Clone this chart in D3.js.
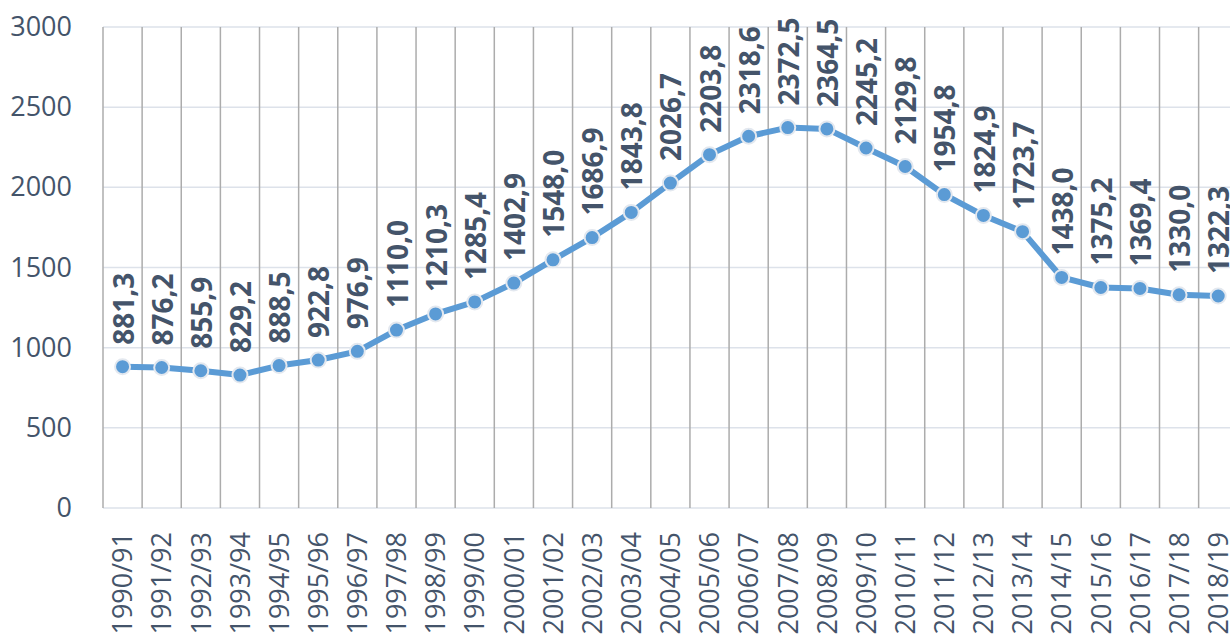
<!DOCTYPE html>
<html>
<head>
<meta charset="utf-8">
<script src="https://cdn.jsdelivr.net/npm/d3@7"></script>
<style>
  body { margin: 0; background: #fff; }
  svg { display: block; font-family: "Open Sans", sans-serif; }
</style>
</head>
<body>
<div id="chart"></div>
<script>
var years = ["1990/91", "1991/92", "1992/93", "1993/94", "1994/95", "1995/96", "1996/97",
  "1997/98", "1998/99", "1999/00", "2000/01", "2001/02", "2002/03", "2003/04", "2004/05",
  "2005/06", "2006/07", "2007/08", "2008/09", "2009/10", "2010/11", "2011/12", "2012/13",
  "2013/14", "2014/15", "2015/16", "2016/17", "2017/18", "2018/19"];
var values = [881.3, 876.2, 855.9, 829.2, 888.5, 922.8, 976.9, 1110.0, 1210.3, 1285.4,
  1402.9, 1548.0, 1686.9, 1843.8, 2026.7, 2203.8, 2318.6, 2372.5, 2364.5, 2245.2,
  2129.8, 1954.8, 1824.9, 1723.7, 1438.0, 1375.2, 1369.4, 1330.0, 1322.3];
var yTicks = [0, 500, 1000, 1500, 2000, 2500, 3000];

var svgWidth = 1230;
var svgHeight = 637;
var plotLeft = 103, plotTop = 27, plotBottom = 508;
var step = 39.13;
var plotRight = plotLeft + step * years.length;

var textColor = "#44546a";

var svg = d3.select("#chart")
  .append("svg")
  .attr("width", svgWidth)
  .attr("height", svgHeight);

var x = d3.scaleBand()
  .domain(years)
  .range([plotLeft, plotRight])
  .padding(0);

var y = d3.scaleLinear()
  .domain([0, 3000])
  .range([plotBottom, plotTop]);

// horizontal gridlines
svg.append("g")
  .selectAll("line")
  .data(yTicks)
  .enter()
  .append("line")
  .attr("x1", plotLeft)
  .attr("x2", plotRight)
  .attr("y1", d => y(d))
  .attr("y2", d => y(d))
  .attr("stroke", "#dde2ea")
  .attr("stroke-width", 1.5);

// vertical gridlines between categories
var bounds = years.map(d => x(d));
svg.append("g")
  .selectAll("line")
  .data(bounds)
  .enter()
  .append("line")
  .attr("x1", d => d)
  .attr("x2", d => d)
  .attr("y1", y(3000))
  .attr("y2", y(0))
  .attr("stroke", "#acacac")
  .attr("stroke-width", 1.5);

// y axis labels
var yAxis = svg.append("g")
  .attr("transform", "translate(72,0)")
  .call(d3.axisLeft(y).tickValues(yTicks).tickFormat(d3.format("d")).tickSize(0).tickPadding(0));
yAxis.select(".domain").remove();
yAxis.selectAll("text")
  .attr("font-family", "Open Sans, sans-serif")
  .attr("font-size", "27px")
  .attr("fill", textColor);

// x axis labels, rotated
var xAxis = svg.append("g")
  .attr("transform", `translate(0, ${plotBottom})`)
  .call(d3.axisBottom(x).tickSize(0).tickPadding(0));
xAxis.select(".domain").remove();
xAxis.selectAll("text")
  .attr("font-family", "Open Sans, sans-serif")
  .attr("font-size", "27px")
  .attr("fill", textColor)
  .attr("transform", "rotate(-90)")
  .attr("text-anchor", "end")
  .attr("x", -24)
  .attr("y", 0)
  .attr("dy", "0.36em");

var cx = d => x(d) + x.bandwidth() / 2;

// line
var line = d3.line()
  .x((d, i) => cx(years[i]))
  .y(d => y(d));

svg.append("path")
  .datum(values)
  .attr("d", line)
  .attr("fill", "none")
  .attr("stroke", "#5b9bd5")
  .attr("stroke-width", 6)
  .attr("stroke-linejoin", "round");

// markers
svg.append("g")
  .selectAll("circle")
  .data(values)
  .enter()
  .append("circle")
  .attr("cx", (d, i) => cx(years[i]))
  .attr("cy", d => y(d))
  .attr("r", 7.5)
  .attr("fill", "#5b9bd5")
  .attr("stroke", "#e3e8ef")
  .attr("stroke-width", 2);

// data labels
var fmt = d => d.toFixed(1).replace(".", ",");
svg.append("g")
  .selectAll("text")
  .data(values)
  .enter()
  .append("text")
  .attr("transform", (d, i) => `translate(${cx(years[i]) + 1}, ${y(d) - 22}) rotate(-90)`)
  .attr("dy", "0.36em")
  .attr("font-size", "28px")
  .attr("font-weight", "bold")
  .attr("fill", textColor)
  .text(fmt);
</script>
</body>
</html>
